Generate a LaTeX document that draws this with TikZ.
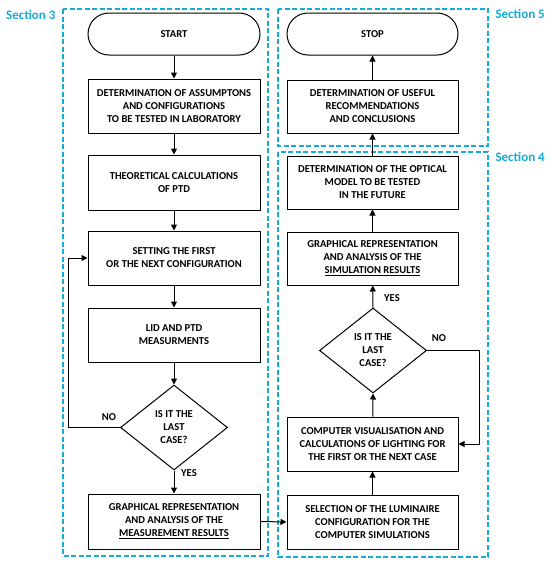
\documentclass[tikz,border=0pt]{standalone}
\usepackage{fontspec}
\setmainfont{Carlito}
\usetikzlibrary{arrows.meta,shapes.geometric,calc}
\definecolor{sec}{RGB}{20,172,218}
\begin{document}
\begin{tikzpicture}[x=1pt,y=-1pt,
  every node/.style={font=\bfseries\fontsize{10.6}{13}\selectfont, text=black},
  box/.style={draw, line width=1pt, minimum width=172pt, minimum height=54pt, align=center, inner sep=0pt},
  term/.style={draw, line width=1pt, minimum width=172pt, minimum height=42pt, rounded corners=21pt, align=center},
  dia/.style={draw, line width=1pt, diamond, minimum width=107pt, minimum height=85pt, inner sep=0pt, aspect=1.26, align=center},
  arr/.style={line width=1pt, -{Triangle[length=6pt,width=6pt]}},
  secbox/.style={draw=sec, line width=1.6pt, dash pattern=on 5pt off 2.5pt},
  seclab/.style={font=\bfseries\fontsize{13}{15}\selectfont, text=sec}
]
\useasboundingbox (0,0) rectangle (550,562);
% section boxes
\draw[secbox] (63,9) rectangle (268,556);
\draw[secbox] (278,9) rectangle (488,146);
\draw[secbox] (278,152) rectangle (488,557);
\node[seclab, anchor=east] (s3) at (59,15) {Section 3};
\node[seclab, anchor=west] (s5) at (492,14) {Section 5};
\node[seclab, anchor=west] (s4) at (492,157) {Section 4};
% left column
\node[term] (start) at (174,34) {START};
\node[box] (a1) at (174,106) {DETERMINATION OF ASSUMPTONS\\AND CONFIGURATIONS\\TO BE TESTED IN LABORATORY};
\node[box, minimum height=55pt] (a2) at (174,182.5) {THEORETICAL CALCULATIONS\\OF PTD};
\node[box] (a3) at (174,258) {SETTING THE FIRST\\OR THE NEXT CONFIGURATION};
\node[box] (a4) at (174,335) {LID AND PTD\\MEASURMENTS};
\node[dia] (d1) at (174,427.5) {IS IT THE\\LAST\\CASE?};
\node[box, minimum height=55pt] (a5) at (174,521.5) {GRAPHICAL REPRESENTATION\\AND ANALYSIS OF THE\\\underline{MEASUREMENT RESULTS}};
% right column
\node[term, minimum width=171pt] (stop) at (372.5,34) {STOP};
\node[box, minimum width=171pt, minimum height=53pt] (b6) at (372.5,106.5) {DETERMINATION OF USEFUL\\RECOMMENDATIONS\\AND CONCLUSIONS};
\node[box, minimum width=171pt, minimum height=53pt] (b5) at (372.5,182.5) {DETERMINATION OF THE OPTICAL\\MODEL TO BE TESTED\\IN THE FUTURE};
\node[box, minimum width=171pt, minimum height=53pt] (b4) at (372.5,258.5) {GRAPHICAL REPRESENTATION\\AND ANALYSIS OF THE\\\underline{SIMULATION RESULTS}};
\node[dia] (d2) at (373,350.5) {IS IT THE\\LAST\\CASE?};
\node[box, minimum width=171pt] (b2) at (372.5,444) {COMPUTER VISUALISATION AND\\CALCULATIONS OF LIGHTING FOR\\THE FIRST OR THE NEXT CASE};
\node[box, minimum width=171pt, minimum height=54pt] (b1) at (372.5,522) {SELECTION OF THE LUMINAIRE\\CONFIGURATION FOR THE\\COMPUTER SIMULATIONS};
% arrows left
\draw[arr] (start) -- (a1);
\draw[arr] (a1) -- (a2);
\draw[arr] (a2) -- (a3);
\draw[arr] (a3) -- (a4);
\draw[arr] (a4) -- (d1.north);
\draw[arr] (d1.south) -- (a5);
\draw[arr] (d1.west) -- (68,427.5) |- (a3.west);
\node (no1) at (109,417) {NO};
\node (yes1) at (189,473) {YES};
% connection
\draw[arr] (a5.east) -- (b1.west);
% arrows right
\draw[arr] (b1) -- (b2);
\draw[arr] (b2) -- (d2.south);
\draw[arr] (d2.north) -- (b4);
\draw[arr] (b4) -- (b5);
\draw[arr] (b5) -- (b6);
\draw[arr] (b6) -- (stop);
\draw[arr] (d2.east) -- (479,350.5) |- (b2.east);
\node (no2) at (439,338) {NO};
\node (yes2) at (392,298) {YES};
\end{tikzpicture}
\end{document}
